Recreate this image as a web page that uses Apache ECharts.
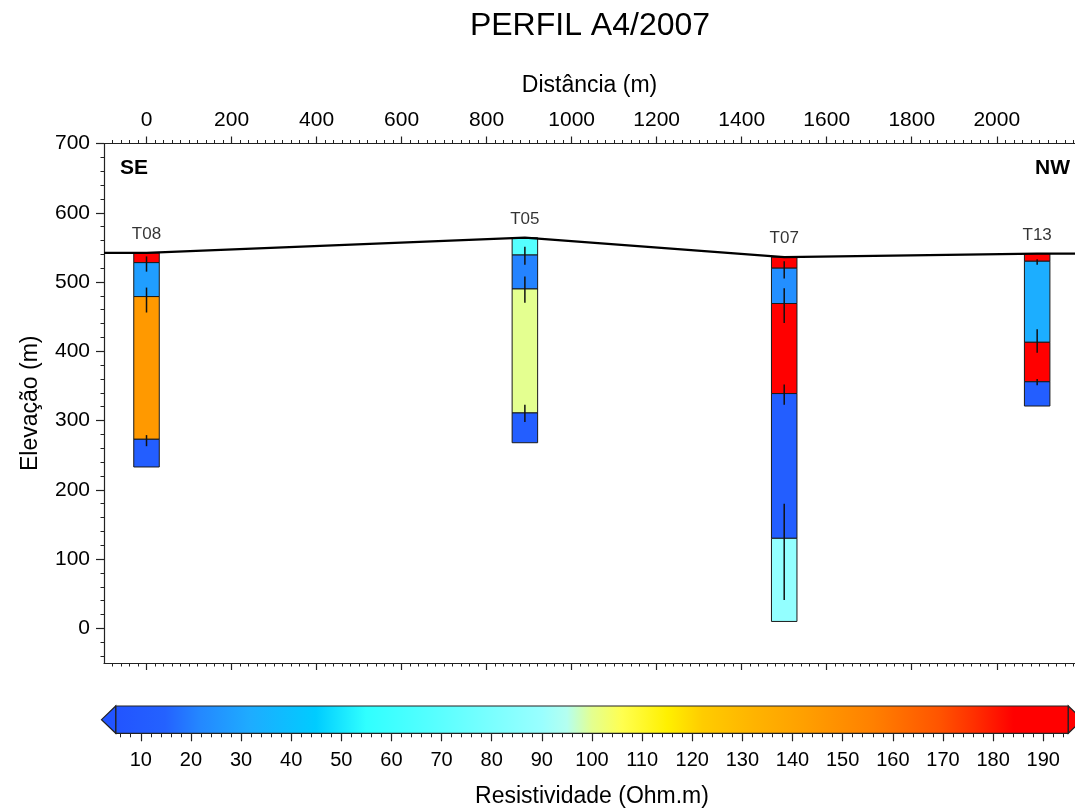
<!DOCTYPE html>
<html>
<head>
<meta charset="utf-8">
<script src="https://cdn.jsdelivr.net/npm/echarts@6/dist/echarts.min.js"></script>
<style>
  html, body { margin: 0; padding: 0; background: #fff; }
  #chart { width: 1075px; height: 809px; }
</style>
</head>
<body>
<div id="chart"></div>
<script>
// Vertical electrical soundings along profile A4 (2007)
const stations = ['T08', 'T05', 'T07', 'T13'];
const stationDistance = [0, 890, 1500, 2095];      // m along profile
const surfaceElevation = [542, 564, 536, 541];      // m

// Layer bottoms (m elevation) and resistivities (Ohm.m), top to bottom
const bottomsT08 = [528, 479, 273, 233];
const rhoT08 = [190, 28, 145, 12];
const bottomsT05 = [539, 490, 311, 268];
const rhoT05 = [68, 21, 100, 12];
const bottomsT07 = [520, 469, 339, 130, 10];
const rhoT07 = [190, 24, 190, 12, 88];
const bottomsT13 = [530, 413, 356, 321];
const rhoT13 = [190, 33, 190, 12];

// Interface uncertainty bars [upper, lower] (m elevation)
const barsT08 = [[537, 515], [492, 456], [279, 263]];
const barsT05 = [[551, 525], [508, 470], [323, 298]];
const barsT07 = [[530, 505], [491, 441], [352, 323], [180, 41]];
const barsT13 = [[533, 525], [432, 398], [360, 351]];

// Ground surface trace
const surfaceLineDistance = [-100, 0, 890, 1500, 2095, 2184];
const surfaceLineElevation = [542, 542, 564, 536, 541, 541];

// Axis ticks
const distanceTicks = [0, 200, 400, 600, 800, 1000, 1200, 1400, 1600, 1800, 2000];
const elevationTicks = [0, 100, 200, 300, 400, 500, 600, 700];
const resistivityTicks = [10, 20, 30, 40, 50, 60, 70, 80, 90, 100, 110, 120, 130, 140, 150, 160, 170, 180, 190];
const resistivityRange = [5, 195];

// Resistivity colour scale
const colorStops = [
  [5, '#2254ff'], [15, '#2462ff'], [22, '#2488ff'], [32, '#1eacff'], [45, '#00ccff'],
  [55, '#30ffff'], [68, '#55ffff'], [90, '#99ffff'], [95, '#b4fff0'], [100, '#e4ff90'],
  [106, '#ffff50'], [115, '#fff000'], [122, '#ffcc00'], [132, '#ffb400'], [142, '#ffa000'],
  [156, '#ff8000'], [169, '#ff5500'], [176, '#ff3000'], [184, '#ff0000'], [195, '#ff0000']
];

function hexToRgb(h) {
  return [parseInt(h.slice(1, 3), 16), parseInt(h.slice(3, 5), 16), parseInt(h.slice(5, 7), 16)];
}
function colorAt(v) {
  if (v <= colorStops[0][0]) return colorStops[0][1];
  for (let i = 1; i < colorStops.length; i++) {
    if (v <= colorStops[i][0]) {
      const a = colorStops[i - 1], b = colorStops[i];
      const t = (v - a[0]) / (b[0] - a[0]);
      const ca = hexToRgb(a[1]), cb = hexToRgb(b[1]);
      const c = ca.map((x, k) => Math.round(x + (cb[k] - x) * t));
      return 'rgb(' + c.join(',') + ')';
    }
  }
  return colorStops[colorStops.length - 1][1];
}

// Assemble layer rectangles and uncertainty bars
const allBottoms = [bottomsT08, bottomsT05, bottomsT07, bottomsT13];
const allRho = [rhoT08, rhoT05, rhoT07, rhoT13];
const allBars = [barsT08, barsT05, barsT07, barsT13];
const layerData = [];
const barData = [];
stations.forEach((name, i) => {
  let top = surfaceElevation[i];
  allBottoms[i].forEach((bottom, j) => {
    layerData.push([stationDistance[i], top, bottom, allRho[i][j]]);
    top = bottom;
  });
  allBars[i].forEach(b => barData.push([stationDistance[i], b[0], b[1]]));
});
const labelData = stations.map((name, i) => [stationDistance[i], surfaceElevation[i], name]);
const surfaceData = surfaceLineDistance.map((d, i) => [d, surfaceLineElevation[i]]);

// Minor tick positions
function minorTicks(from, to, step, major) {
  const out = [];
  for (let v = from; v <= to + 1e-9; v += step) {
    if (Math.abs(v % major) > 1e-9) out.push(v);
  }
  return out;
}
const distanceMinor = minorTicks(-80, 2180, 20, 200);
const elevationMinor = minorTicks(-40, 680, 20, 100);
const resistivityMinor = minorTicks(6, 194, 2, 10);

const FONT = '"Liberation Sans", Arial, Helvetica, sans-serif';
const AXIS_COLOR = '#222';
const HALF_WIDTH = 30;
const X_MIN = -100, X_MAX = 2184, Y_MIN = -50, Y_MAX = 700;
const plainNumber = v => String(v);

function hiddenAxisParts() {
  return { axisLabel: { show: false }, splitLine: { show: false } };
}
function mainLine(show) {
  return { show: show, onZero: false, lineStyle: { color: AXIS_COLOR, width: 1.2 } };
}

const chart = echarts.init(document.getElementById('chart'), null, { renderer: 'canvas' });

chart.setOption({
  animation: false,
  backgroundColor: '#fff',
  textStyle: { fontFamily: FONT },
  title: {
    text: 'PERFIL A4/2007',
    left: 590,
    top: 10,
    padding: 0,
    textAlign: 'center',
    textStyle: { fontFamily: FONT, fontSize: 32, fontWeight: 'normal', color: '#000' }
  },
  grid: [
    { left: 104, right: 0, top: 143.5, bottom: 146, outerBoundsMode: 'none' },
    { left: 115.7, right: 6.7, top: 706, height: 27.3, outerBoundsMode: 'none' }
  ],
  xAxis: [
    {
      type: 'value', gridIndex: 0, position: 'top', min: X_MIN, max: X_MAX,
      name: 'Distância (m)', nameLocation: 'middle', nameGap: 46,
      nameTextStyle: { fontFamily: FONT, fontSize: 23, color: '#000' },
      axisLine: mainLine(true),
      axisTick: { show: true, length: 7, customValues: distanceTicks, lineStyle: { color: AXIS_COLOR, width: 1.2 } },
      axisLabel: { show: true, customValues: distanceTicks, formatter: plainNumber, margin: 13, fontSize: 21, color: '#000', fontFamily: FONT },
      splitLine: { show: false }
    },
    Object.assign({
      type: 'value', gridIndex: 0, position: 'top', min: X_MIN, max: X_MAX,
      axisLine: mainLine(false),
      axisTick: { show: true, length: 3.5, customValues: distanceMinor, lineStyle: { color: AXIS_COLOR, width: 1 } }
    }, hiddenAxisParts()),
    Object.assign({
      type: 'value', gridIndex: 0, position: 'bottom', min: X_MIN, max: X_MAX,
      axisLine: mainLine(true),
      axisTick: { show: true, length: 7, customValues: distanceTicks, lineStyle: { color: AXIS_COLOR, width: 1.2 } }
    }, hiddenAxisParts()),
    Object.assign({
      type: 'value', gridIndex: 0, position: 'bottom', min: X_MIN, max: X_MAX,
      axisLine: mainLine(false),
      axisTick: { show: true, length: 3.5, customValues: distanceMinor, lineStyle: { color: AXIS_COLOR, width: 1 } }
    }, hiddenAxisParts()),
    {
      type: 'value', gridIndex: 1, position: 'bottom', min: resistivityRange[0], max: resistivityRange[1],
      name: 'Resistividade (Ohm.m)', nameLocation: 'middle', nameGap: 52,
      nameTextStyle: { fontFamily: FONT, fontSize: 23, color: '#000' },
      axisLine: mainLine(false),
      axisTick: { show: true, length: 8, customValues: resistivityTicks, lineStyle: { color: AXIS_COLOR, width: 1.2 } },
      axisLabel: { show: true, customValues: resistivityTicks, formatter: plainNumber, margin: 17, fontSize: 20, color: '#000', fontFamily: FONT },
      splitLine: { show: false }
    },
    Object.assign({
      type: 'value', gridIndex: 1, position: 'bottom', min: resistivityRange[0], max: resistivityRange[1],
      axisLine: mainLine(false),
      axisTick: { show: true, length: 4, customValues: resistivityMinor, lineStyle: { color: AXIS_COLOR, width: 1 } }
    }, hiddenAxisParts())
  ],
  yAxis: [
    {
      type: 'value', gridIndex: 0, position: 'left', min: Y_MIN, max: Y_MAX,
      name: 'Elevação (m)', nameLocation: 'middle', nameGap: 62, nameRotate: 90,
      nameTextStyle: { fontFamily: FONT, fontSize: 23, color: '#000' },
      axisLine: mainLine(true),
      axisTick: { show: true, length: 8, customValues: elevationTicks, lineStyle: { color: AXIS_COLOR, width: 1.2 } },
      axisLabel: { show: true, customValues: elevationTicks, formatter: plainNumber, margin: 14, fontSize: 21, color: '#000', fontFamily: FONT },
      splitLine: { show: false }
    },
    Object.assign({
      type: 'value', gridIndex: 0, position: 'left', min: Y_MIN, max: Y_MAX,
      axisLine: mainLine(false),
      axisTick: { show: true, length: 3.5, customValues: elevationMinor, lineStyle: { color: AXIS_COLOR, width: 1 } }
    }, hiddenAxisParts()),
    { type: 'value', gridIndex: 1, min: 0, max: 1, show: false }
  ],
  graphic: [
    { type: 'text', x: 120, y: 168, style: { text: 'SE', font: 'bold 21px ' + FONT, fill: '#000', verticalAlign: 'middle', align: 'left' } },
    { type: 'text', x: 1070, y: 168, style: { text: 'NW', font: 'bold 21px ' + FONT, fill: '#000', verticalAlign: 'middle', align: 'right' } }
  ],
  series: [
    {
      name: 'layers',
      type: 'custom',
      xAxisIndex: 0, yAxisIndex: 0,
      data: layerData,
      encode: { x: 0, y: [1, 2] },
      z: 2,
      renderItem: function (params, api) {
        const x = api.value(0), top = api.value(1), bottom = api.value(2), rho = api.value(3);
        const p0 = api.coord([x - HALF_WIDTH, top]);
        const p1 = api.coord([x + HALF_WIDTH, bottom]);
        return {
          type: 'rect',
          shape: { x: p0[0], y: p0[1], width: p1[0] - p0[0], height: p1[1] - p0[1] },
          style: { fill: colorAt(rho), stroke: '#1a1a1a', lineWidth: 1 }
        };
      }
    },
    {
      name: 'uncertainty',
      type: 'custom',
      xAxisIndex: 0, yAxisIndex: 0,
      data: barData,
      encode: { x: 0, y: [1, 2] },
      z: 3,
      renderItem: function (params, api) {
        const a = api.coord([api.value(0), api.value(1)]);
        const b = api.coord([api.value(0), api.value(2)]);
        return {
          type: 'line',
          shape: { x1: a[0], y1: a[1], x2: b[0], y2: b[1] },
          style: { stroke: '#111', lineWidth: 1.5 }
        };
      }
    },
    {
      name: 'surface',
      type: 'line',
      xAxisIndex: 0, yAxisIndex: 0,
      data: surfaceData,
      symbol: 'none',
      z: 4,
      lineStyle: { color: '#000', width: 2.2 }
    },
    {
      name: 'stations',
      type: 'scatter',
      xAxisIndex: 0, yAxisIndex: 0,
      data: labelData,
      symbolSize: 0,
      z: 5,
      label: {
        show: true, position: 'top', distance: 10,
        formatter: p => p.data[2],
        fontFamily: FONT, fontSize: 17, color: '#000'
      }
    },
    {
      name: 'colorbar',
      type: 'custom',
      xAxisIndex: 4, yAxisIndex: 2,
      data: [resistivityRange],
      encode: { x: [0, 1] },
      renderItem: function (params, api) {
        const lo = api.value(0), hi = api.value(1);
        const a = api.coord([lo, 0]);
        const b = api.coord([hi, 1]);
        const x0 = a[0], x1 = b[0], yb = a[1], yt = b[1];
        const h = yb - yt, ym = (yt + yb) / 2, tip = h * 0.52;
        const grad = new echarts.graphic.LinearGradient(0, 0, 1, 0,
          colorStops.map(s => ({ offset: (s[0] - lo) / (hi - lo), color: s[1] })));
        return {
          type: 'group',
          children: [
            { type: 'rect', shape: { x: x0, y: yt, width: x1 - x0, height: h }, style: { fill: grad, stroke: '#222', lineWidth: 1.2 } },
            { type: 'polygon', shape: { points: [[x0, yt], [x0 - tip, ym], [x0, yb]] }, style: { fill: colorAt(lo), stroke: '#222', lineWidth: 1.2 } },
            { type: 'polygon', shape: { points: [[x1, yt], [x1 + tip, ym], [x1, yb]] }, style: { fill: colorAt(hi), stroke: '#222', lineWidth: 1.2 } }
          ]
        };
      }
    }
  ]
});
</script>
</body>
</html>
